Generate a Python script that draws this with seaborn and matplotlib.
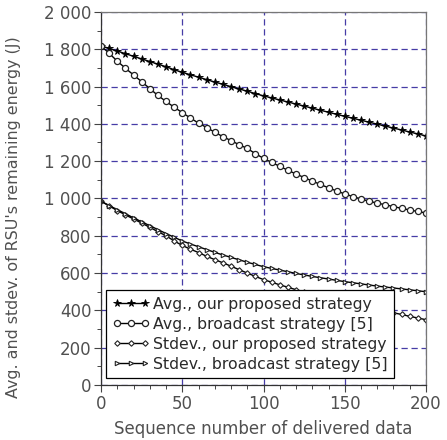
import numpy as np
import pandas as pd
import matplotlib
matplotlib.use("Agg")
import matplotlib.pyplot as plt
from matplotlib.ticker import MultipleLocator, FuncFormatter
import seaborn as sns

# -----------------------------
# Data (every 5 delivered data)
# -----------------------------

seq = list(range(0, 201, 5))

avg_ours = [1818, 1804, 1790, 1776, 1762, 1748, 1734, 1720, 1706, 1690,
            1676, 1663, 1650, 1637, 1624, 1612, 1599, 1587, 1575, 1562,
            1550, 1539, 1528, 1517, 1506, 1495, 1484, 1473, 1462, 1451,
            1440, 1430, 1419, 1409, 1398, 1388, 1377, 1367, 1356, 1346, 1335]

avg_broadcast = [1818, 1778, 1736, 1698, 1662, 1626, 1589, 1552, 1520, 1489,
                 1460, 1431, 1404, 1380, 1355, 1331, 1310, 1288, 1268, 1240,
                 1215, 1193, 1172, 1151, 1131, 1112, 1093, 1075, 1057, 1040,
                 1024, 1010, 997, 985, 975, 966, 956, 947, 938, 930, 922]

std_ours = [985, 960, 935, 912, 890, 868, 845, 822, 800, 772,
            748, 728, 710, 690, 672, 655, 637, 618, 600, 582,
            565, 551, 537, 524, 511, 499, 487, 476, 465, 455,
            445, 435, 425, 415, 406, 397, 387, 378, 368, 359, 350]

std_broadcast = [985, 962, 940, 918, 896, 875, 854, 833, 812, 792,
                 772, 756, 741, 726, 711, 697, 684, 671, 658, 646,
                 634, 625, 616, 607, 598, 590, 582, 575, 568, 561,
                 554, 548, 542, 536, 530, 525, 520, 515, 510, 505, 500]

labels = ["Avg., our proposed strategy",
          "Avg., broadcast strategy [5]",
          "Stdev., our proposed strategy",
          "Stdev., broadcast strategy [5]"]

df = pd.DataFrame({
    "seq": seq * 4,
    "energy": avg_ours + avg_broadcast + std_ours + std_broadcast,
    "series": np.repeat(labels, len(seq)),
})

# -----------------------------
# Style
# -----------------------------

sns.set_theme(style="ticks")
plt.rcParams["font.family"] = ["DejaVu Sans"]
text_color = "#505050"

fig = plt.figure(figsize=(4.47, 4.40), dpi=100)
ax = fig.add_axes([0.226, 0.125, 0.727, 0.848])

markers = {
    labels[0]: dict(marker="*", markersize=5.5, markerfacecolor="black",
                    markeredgecolor="black", markeredgewidth=0.6),
    labels[1]: dict(marker="o", markersize=4.4, markerfacecolor="white",
                    markeredgecolor="#222222", markeredgewidth=0.9),
    labels[2]: dict(marker="D", markersize=2.8, markerfacecolor="white",
                    markeredgecolor="#222222", markeredgewidth=0.8),
    labels[3]: dict(marker=">", markersize=3.2, markerfacecolor="white",
                    markeredgecolor="#222222", markeredgewidth=0.8),
}

for name in labels:
    sub = df[df["series"] == name]
    sns.lineplot(data=sub, x="seq", y="energy", ax=ax, label=name,
                 color="black", linewidth=1.0, **markers[name])

# -----------------------------
# Axes
# -----------------------------

ax.set_xlim(0, 200)
ax.set_ylim(0, 2000)
ax.xaxis.set_major_locator(MultipleLocator(50))
ax.xaxis.set_minor_locator(MultipleLocator(10))
ax.yaxis.set_major_locator(MultipleLocator(200))
ax.yaxis.set_minor_locator(MultipleLocator(100))
ax.yaxis.set_major_formatter(FuncFormatter(lambda v, p: f"{int(v):,}".replace(",", " ")))

ax.tick_params(which="major", direction="out", length=5, width=0.8,
               labelsize=12, colors="#444444", labelcolor=text_color, pad=2)
ax.tick_params(which="minor", direction="out", length=3, width=0.7, colors="#444444")

for side in ["left", "bottom"]:
    ax.spines[side].set_color("#333333")
    ax.spines[side].set_linewidth(0.9)
for side in ["top", "right"]:
    ax.spines[side].set_visible(True)
    ax.spines[side].set_color("#777777")
    ax.spines[side].set_linewidth(0.9)

ax.grid(True, which="major", linestyle=(0, (5, 3)), color="#463ca6", linewidth=0.9)
ax.set_axisbelow(True)

ax.set_xlabel("Sequence number of delivered data", fontsize=12, color=text_color,
              labelpad=5)
ax.set_ylabel("Avg. and stdev. of RSU's remaining energy (J)", fontsize=11.4,
              color=text_color)
ax.yaxis.set_label_coords(-0.245, 0.45)

leg = ax.legend(loc="lower left", bbox_to_anchor=(0.015, 0.019), borderaxespad=0,
                fontsize=11.3, frameon=True, fancybox=False, framealpha=1,
                edgecolor="black", numpoints=3, handlelength=2.4,
                handletextpad=0.2, labelspacing=0.32, borderpad=0.4)
leg.get_frame().set_linewidth(0.9)
for t in leg.get_texts():
    t.set_color("#2a2a2a")

plt.savefig("out.png", dpi=100, facecolor="white")
